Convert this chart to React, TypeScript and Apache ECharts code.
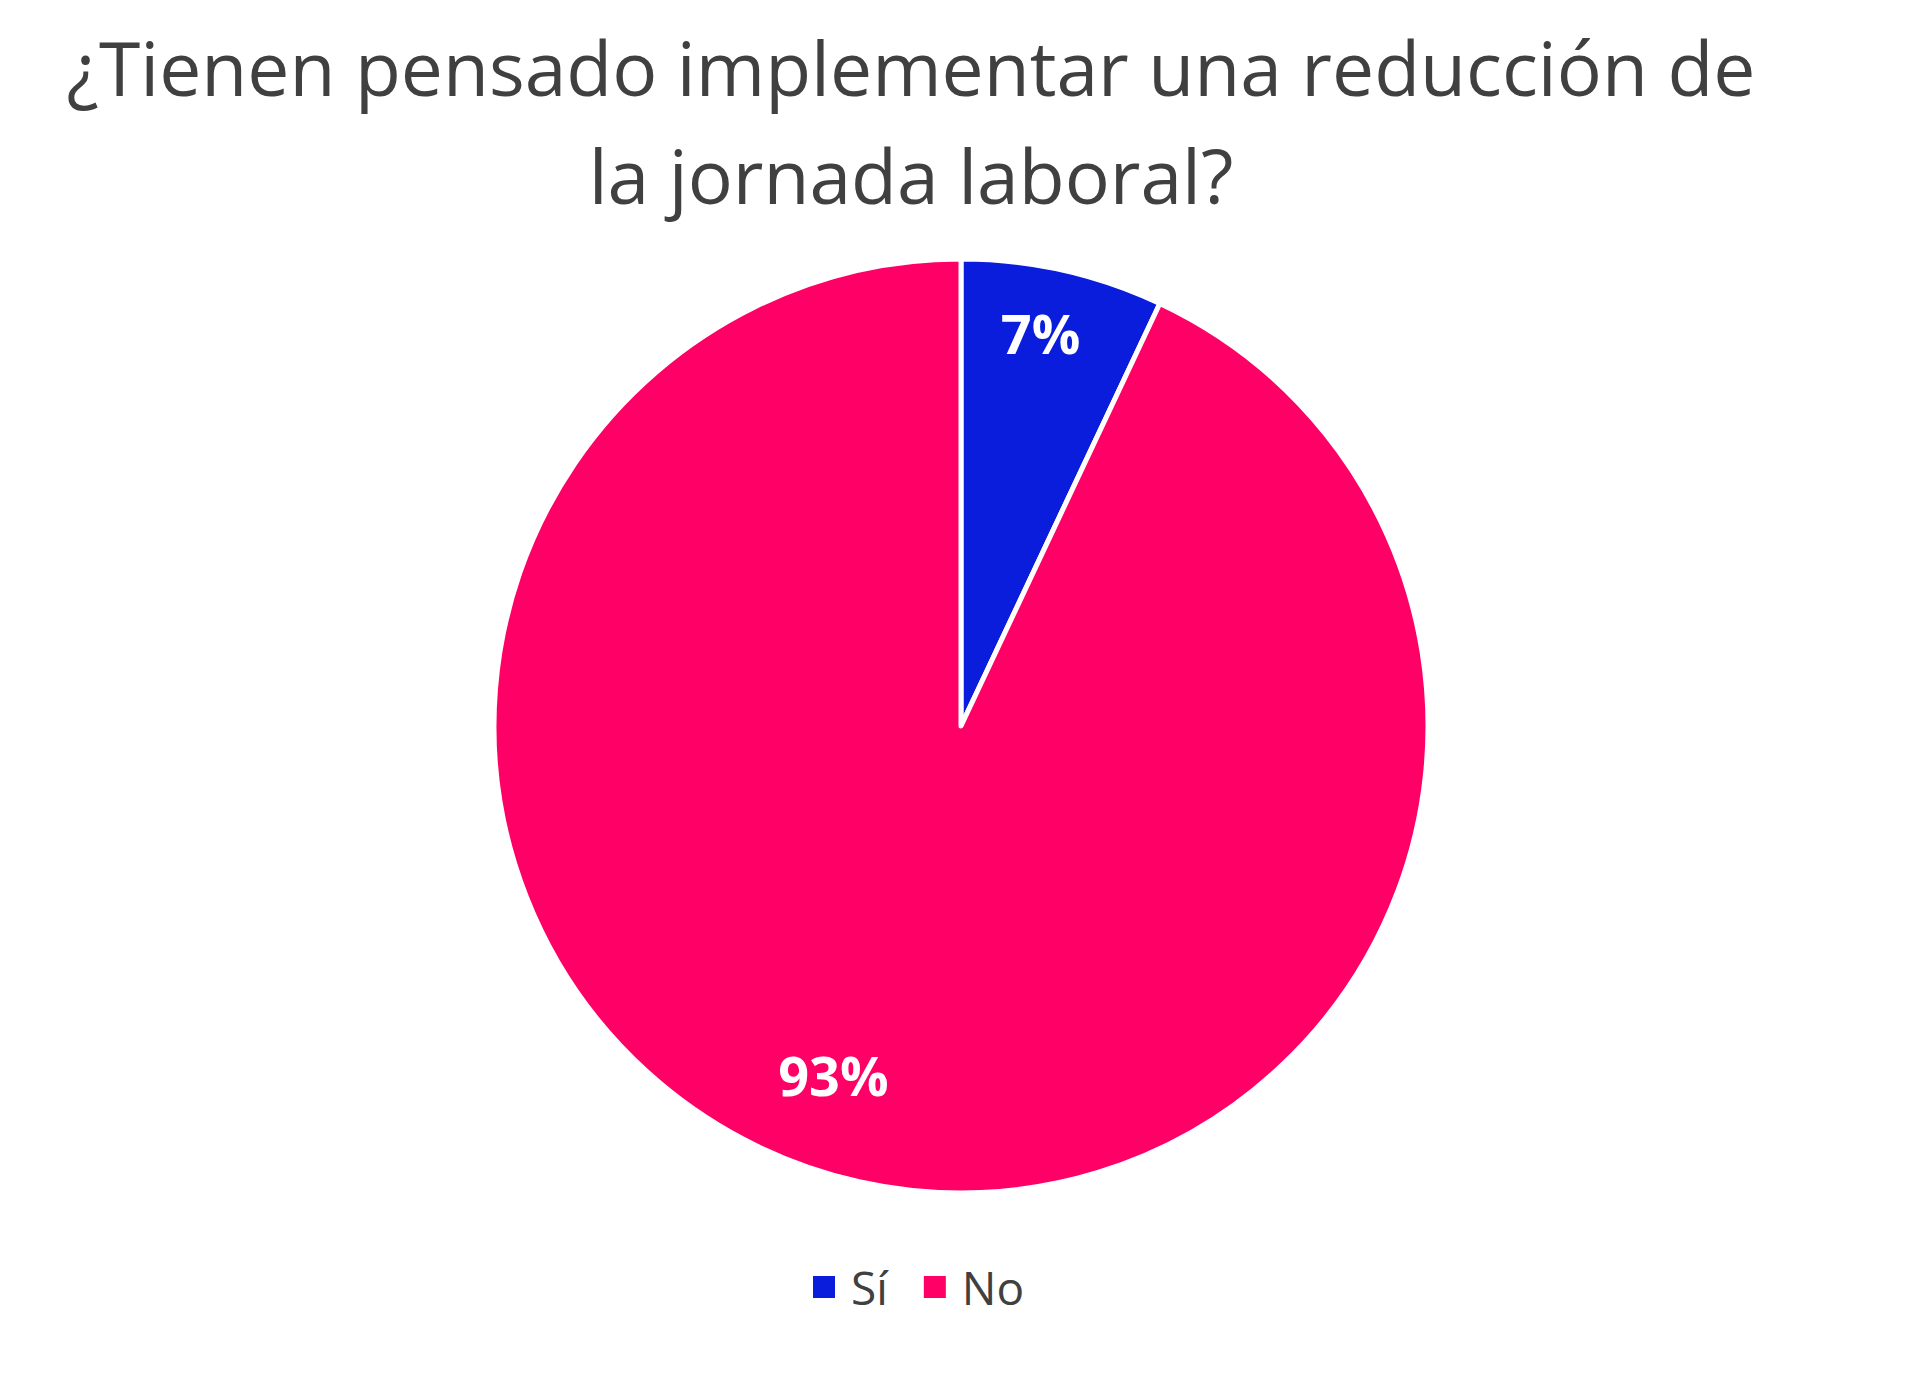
import React, { useEffect, useRef } from "react";
import * as echarts from "echarts";

const titleText = "¿Tienen pensado implementar una reducción de\nla jornada laboral?";
const categories = ["Sí", "No"];
const values = [7, 93];
const colors = ["#0A1CDC", "#FF0066"];

export default function App() {
  const ref = useRef<HTMLDivElement>(null);
  useEffect(() => {
    const chart = echarts.init(ref.current!, null, { renderer: "svg" });
    const labelShift = [
      { dx: 28, dy: -162 },
      { dx: -76, dy: 118 },
    ];
    chart.setOption({
      animation: false,
      backgroundColor: "#ffffff",
      title: {
        text: titleText,
        left: 906,
        top: 8,
        textAlign: "center",
        textStyle: {
          fontFamily: "Open Sans",
          fontSize: 75,
          fontWeight: "normal",
          color: "#404040",
          lineHeight: 108,
        },
      },
      legend: {
        bottom: 77,
        left: 806,
        itemWidth: 24,
        itemHeight: 24,
        itemGap: 34,
        icon: "rect",
        textStyle: {
          fontFamily: "Open Sans",
          fontSize: 46,
          color: "#404040",
          padding: [0, 0, 0, 10],
        },
        data: categories,
      },
      series: [
        {
          type: "pie",
          center: [961, 726],
          radius: 467,
          startAngle: 90,
          clockwise: true,
          itemStyle: { borderColor: "#ffffff", borderWidth: 5 },
          label: {
            show: true,
            position: "inside",
            formatter: "{d}%",
            fontFamily: "Open Sans",
            fontWeight: "bold",
            fontSize: 54,
            color: "#ffffff",
          },
          labelLayout: (p: any) => labelShift[p.dataIndex],
          labelLine: { show: false },
          data: categories.map((c, i) => ({
            name: c,
            value: values[i],
            itemStyle: { color: colors[i] },
          })),
        },
      ],
    });
    return () => chart.dispose();
  }, []);
  return (
    <div
      ref={ref}
      style={{ position: "fixed", left: 0, top: 0, width: 1920, height: 1392 }}
    />
  );
}
